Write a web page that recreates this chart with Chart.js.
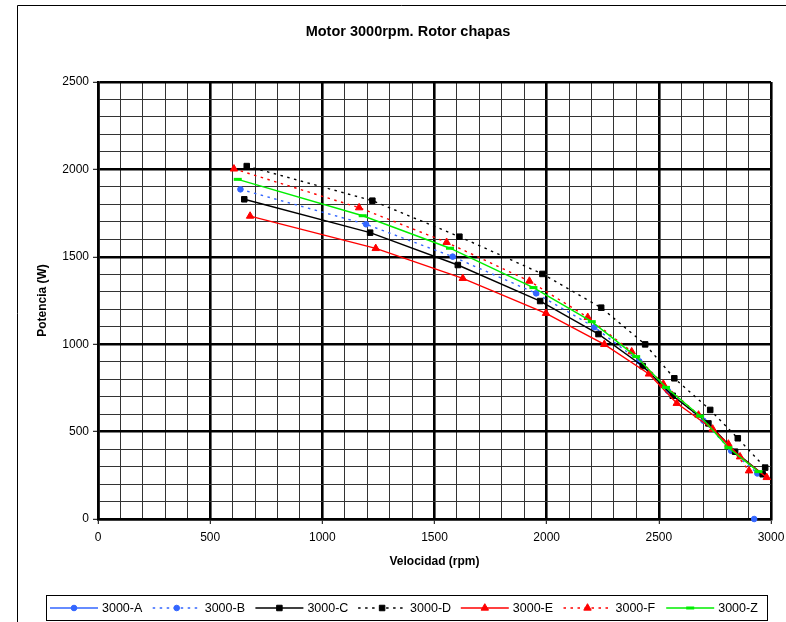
<!DOCTYPE html>
<html>
<head>
<meta charset="utf-8">
<title>Motor 3000rpm. Rotor chapas</title>
<script src="https://cdn.jsdelivr.net/npm/chart.js@4.4.1/dist/chart.umd.min.js"></script>
<style>
  html, body { margin: 0; padding: 0; background: #fff; }
  #wrap { width: 786px; height: 622px; }
</style>
</head>
<body>
<div id="wrap"><canvas id="chart" width="786" height="622"></canvas></div>
<script>
/* ===== Datos: velocidad (rpm) / potencia (W) por ensayo ===== */
const seriesNames = ['3000-A', '3000-B', '3000-C', '3000-D', '3000-E', '3000-F', '3000-Z'];

const velA = [2925];
const potA = [0];

const velB = [635, 1195, 1581, 1953, 2213, 2413, 2540, 2699, 2822, 2939];
const potB = [1886, 1686, 1501, 1291, 1097, 902, 734, 562, 391, 261];

const velC = [652, 1213, 1604, 1971, 2231, 2428, 2562, 2721, 2840, 2963];
const potC = [1829, 1638, 1453, 1247, 1058, 875, 705, 547, 385, 256];

const velD = [663, 1223, 1611, 1981, 2243, 2439, 2569, 2729, 2852, 2974];
const potD = [2019, 1821, 1615, 1402, 1209, 999, 805, 624, 462, 294];

const velE = [678, 1238, 1626, 1997, 2257, 2456, 2580, 2740, 2862, 2981];
const potE = [1733, 1548, 1377, 1177, 999, 830, 662, 515, 356, 238];

const velF = [606, 1164, 1554, 1923, 2183, 2379, 2520, 2677, 2810, 2902];
const potF = [2003, 1781, 1583, 1361, 1154, 957, 772, 595, 429, 276];

const velZ = [623, 1180, 1569, 1941, 2201, 2399, 2532, 2684, 2810, 2944];
const potZ = [1943, 1735, 1549, 1324, 1129, 929, 753, 589, 408, 271];

const xTickValues = [0, 500, 1000, 1500, 2000, 2500, 3000];
const yTickValues = [0, 500, 1000, 1500, 2000, 2500];

const FONT = "'Liberation Sans', Arial, sans-serif";
const BLUE = '#3366ff', RED = '#ff0000', GREEN = '#00ee00', BLACK = '#000000';
const DOTS = [2.5, 4.5];

function pts(xs, ys) {
  return xs.map((x, i) => ({ x: x, y: ys[i] }));
}

function serie(label, xs, ys, color, dash, style, radius, pbw) {
  return {
    label: label,
    data: pts(xs, ys),
    showLine: true,
    borderColor: color,
    backgroundColor: color,
    borderWidth: 1.4,
    borderDash: dash,
    pointStyle: style,
    pointRadius: radius,
    pointHoverRadius: radius,
    pointBorderWidth: pbw,
    pointBackgroundColor: color,
    pointBorderColor: color,
    tension: 0,
    clip: false
  };
}

const datasets = [
  serie(seriesNames[0], velA, potA, BLUE, [], 'circle', 2.8, 1),
  serie(seriesNames[1], velB, potB, BLUE, DOTS, 'circle', 2.8, 1),
  serie(seriesNames[2], velC, potC, BLACK, [], 'rect', 3.9, 1),
  serie(seriesNames[3], velD, potD, BLACK, DOTS, 'rect', 3.9, 1),
  serie(seriesNames[4], velE, potE, RED, [], 'triangle', 4.3, 1),
  serie(seriesNames[5], velF, potF, RED, DOTS, 'triangle', 4.3, 1),
  serie(seriesNames[6], velZ, potZ, GREEN, [], 'line', 4, 3)
];
// como en la hoja original: la última serie queda encima
datasets.forEach((d, i) => { d.order = datasets.length - i; });

/* ===== Marco, títulos y leyenda ===== */
function marker(ctx, ds, x, y) {
  ctx.save();
  ctx.setLineDash([]);
  ctx.fillStyle = ds.pointBackgroundColor;
  ctx.strokeStyle = ds.pointBorderColor;
  ctx.lineWidth = ds.pointBorderWidth;
  Chart.helpers.drawPoint(ctx, {
    pointStyle: ds.pointStyle,
    radius: ds.pointRadius,
    borderWidth: ds.pointBorderWidth,
    rotation: 0
  }, x, y);
  ctx.restore();
}

const decor = {
  id: 'decor',
  beforeDraw(chart) {
    const ctx = chart.ctx;
    ctx.save();
    ctx.fillStyle = '#fff';
    ctx.fillRect(0, 0, chart.width, chart.height);
    ctx.strokeStyle = '#000';
    ctx.lineWidth = 1;
    ctx.beginPath();
    ctx.moveTo(17.5, chart.height);
    ctx.lineTo(17.5, 5.5);
    ctx.lineTo(chart.width, 5.5);
    ctx.stroke();
    ctx.restore();
  },
  afterDraw(chart) {
    const ctx = chart.ctx;
    const area = chart.chartArea;
    ctx.save();
    ctx.fillStyle = '#000';
    ctx.textAlign = 'center';
    ctx.textBaseline = 'middle';

    ctx.font = 'bold 14.5px ' + FONT;
    ctx.fillText('Motor 3000rpm. Rotor chapas', 408, 32);

    ctx.font = 'bold 12px ' + FONT;
    ctx.fillText('Velocidad (rpm)', (area.left + area.right) / 2, 562);

    ctx.save();
    ctx.translate(43, (area.top + area.bottom) / 2);
    ctx.rotate(-Math.PI / 2);
    ctx.fillText('Potencia (W)', 0, 0);
    ctx.restore();

    // leyenda
    const boxL = 46.5, boxT = 595.5, boxW = 721, boxH = 25;
    const cy = boxT + boxH / 2;
    ctx.strokeStyle = '#000';
    ctx.lineWidth = 1;
    ctx.strokeRect(boxL, boxT, boxW, boxH);

    ctx.font = '12.5px ' + FONT;
    ctx.textAlign = 'left';
    chart.data.datasets.forEach((ds, i) => {
      const x0 = 50 + i * 102.7;
      ctx.save();
      ctx.strokeStyle = ds.borderColor;
      ctx.lineWidth = ds.borderWidth;
      ctx.setLineDash(ds.borderDash);
      ctx.beginPath();
      ctx.moveTo(x0, cy);
      ctx.lineTo(x0 + 48, cy);
      ctx.stroke();
      ctx.restore();
      marker(ctx, ds, x0 + 24, cy);
      ctx.fillStyle = '#000';
      ctx.fillText(ds.label, x0 + 52, cy + 0.5);
    });
    ctx.restore();
  }
};

/* ===== Rejilla: menor cada 100, mayor cada 500 ===== */
function isMajor(v, list) {
  return list.indexOf(v) !== -1;
}

function axis(max, majors, fitSize, isX) {
  return {
    type: 'linear',
    min: 0,
    max: max,
    ticks: {
      stepSize: 100,
      autoSkip: false,
      maxRotation: 0,
      minRotation: 0,
      padding: isX ? 6 : 4,
      color: '#000',
      font: { size: 12, family: FONT },
      callback: v => isMajor(v, majors) ? String(v) : ''
    },
    grid: {
      color: ctx => isMajor(ctx.tick.value, majors) ? '#000' : '#333',
      lineWidth: ctx => isMajor(ctx.tick.value, majors) ? 2.6 : 1,
      tickLength: 5,
      tickWidth: 1,
      tickColor: ctx => isMajor(ctx.tick.value, majors) ? '#000' : 'rgba(0,0,0,0)'
    },
    border: { display: true, color: '#000', width: 2.6 },
    afterFit: scale => {
      // el marco lo fija layout.padding, no el desborde de las etiquetas
      scale.paddingLeft = 0;
      scale.paddingRight = 0;
      scale.paddingTop = 0;
      scale.paddingBottom = 0;
      if (isX) scale.height = fitSize;
      else scale.width = fitSize;
    }
  };
}

new Chart(document.getElementById('chart'), {
  type: 'scatter',
  data: { datasets: datasets },
  options: {
    responsive: false,
    animation: false,
    layout: { padding: { left: 0, top: 82, right: 15, bottom: 73 } },
    plugins: {
      legend: { display: false },
      title: { display: false },
      tooltip: { enabled: false }
    },
    scales: {
      x: axis(3000, xTickValues, 30, true),
      y: axis(2500, yTickValues, 98, false)
    }
  },
  plugins: [decor]
});
</script>
</body>
</html>
